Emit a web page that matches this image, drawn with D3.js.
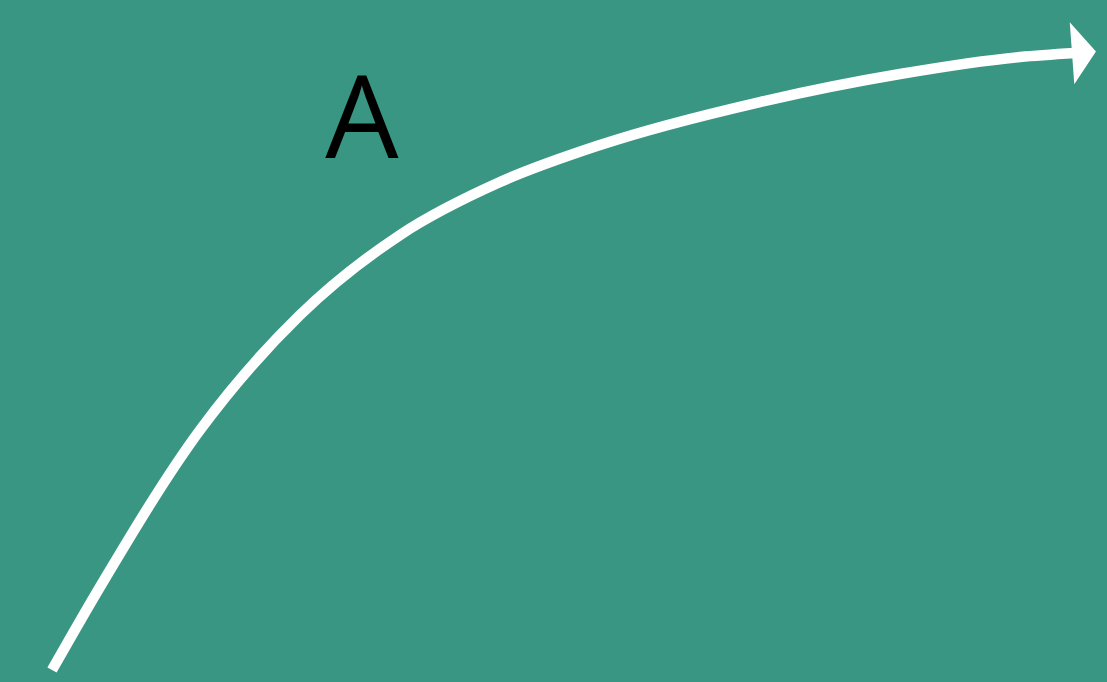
<!DOCTYPE html>
<html><head><meta charset="utf-8">
<script src="https://cdn.jsdelivr.net/npm/d3@7"></script>
<style>html,body{margin:0;padding:0;background:#389683;overflow:hidden}</style>
</head><body>
<script>
const curveX = [4.7, 9.03, 18.07, 27.1, 36.13, 45.17, 54.2, 68.65, 81.3, 92.14, 97.11];
const curveY = [1.76, 13.93, 36.95, 53.81, 65.54, 73.31, 78.74, 85.04, 89.15, 91.64, 92.23];
const labels = ["A"];
const labelX = [32.7];
const labelY = [76.8];

const W = 1107, H = 682;
const x = d3.scaleLinear().domain([0, 100]).range([0, W]);
const y = d3.scaleLinear().domain([0, 100]).range([H, 0]);

const svg = d3.select("body").append("svg").attr("width", W).attr("height", H);
svg.append("rect").attr("width", W).attr("height", H).attr("fill", "#389683");

const pts = curveX.map((v, i) => [v, curveY[i]]);
const line = d3.line().x(d => x(d[0])).y(d => y(d[1])).curve(d3.curveMonotoneX);
svg.append("path").attr("d", line(pts)).attr("fill", "none")
  .attr("stroke", "#ffffff").attr("stroke-width", 10.5).attr("stroke-linecap", "butt");

// arrowhead oriented along the last segment
const p1 = pts[pts.length - 2], p2 = pts[pts.length - 1];
const ex = x(p2[0]), ey = y(p2[1]);
const ang = Math.atan2(y(p2[1]) - y(p1[1]), x(p2[0]) - x(p1[0]));
const len = 24, half = 31;
const back = -3;
const cx = ex + back * Math.cos(ang), cy = ey + back * Math.sin(ang);
const tip = [cx + len * Math.cos(ang), cy + len * Math.sin(ang)];
const b1 = [cx - half * Math.sin(ang), cy + half * Math.cos(ang)];
const b2 = [cx + half * Math.sin(ang), cy - half * Math.cos(ang)];
svg.append("path").attr("d", d3.line()([b1, tip, b2]) + "Z").attr("fill", "#ffffff");

svg.selectAll("text.lbl").data(labels).join("text").attr("class", "lbl")
  .attr("x", (d, i) => x(labelX[i])).attr("y", (d, i) => y(labelY[i]))
  .attr("text-anchor", "middle").attr("font-family", "'Open Sans', sans-serif")
  .attr("font-size", 116).attr("fill", "#000000").text(d => d);
</script>
</body></html>
